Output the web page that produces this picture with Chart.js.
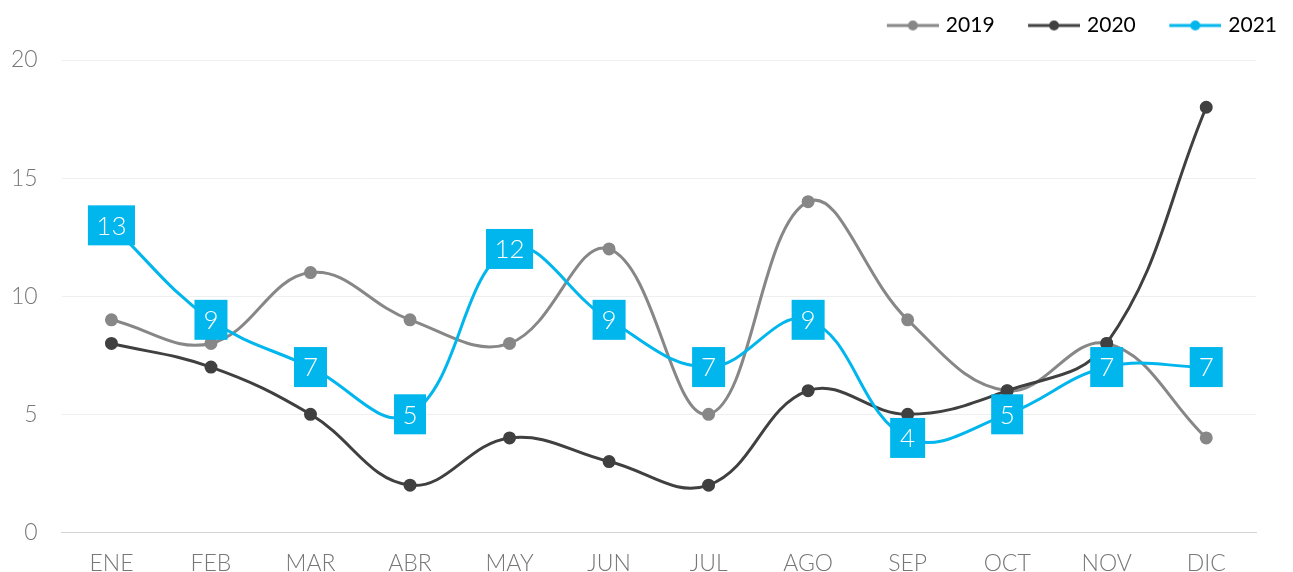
<!DOCTYPE html>
<html>
<head>
<meta charset="utf-8">
<script src="https://cdn.jsdelivr.net/npm/chart.js@4"></script>
<style>
  body { margin: 0; background: #fff; }
  #wrap { width: 1293px; height: 572px; }
</style>
</head>
<body>
<div id="wrap"><canvas id="chart" width="1293" height="572"></canvas></div>
<script>
const months = ['ENE', 'FEB', 'MAR', 'ABR', 'MAY', 'JUN', 'JUL', 'AGO', 'SEP', 'OCT', 'NOV', 'DIC'];
const values2019 = [9, 8, 11, 9, 8, 12, 5, 14, 9, 6, 8, 4];
const values2020 = [8, 7, 5, 2, 4, 3, 2, 6, 5, 6, 8, 18];
const values2021 = [13, 9, 7, 5, 12, 9, 7, 9, 4, 5, 7, 7];
const yTicks = [0, 5, 10, 15, 20];

const gray = '#878787';
const dark = '#404040';
const cyan = '#00b6ec';
const fontFamily = 'Lato, "Open Sans", sans-serif';

// line-with-dot swatch for the legend (transparent lead-in keeps the items apart)
function legendSwatch(color) {
    const c = document.createElement('canvas');
    c.width = 77;
    c.height = 12;
    const ctx = c.getContext('2d');
    ctx.strokeStyle = color;
    ctx.lineWidth = 3;
    ctx.beginPath();
    ctx.moveTo(25, 6);
    ctx.lineTo(77, 6);
    ctx.stroke();
    ctx.fillStyle = color;
    ctx.beginPath();
    ctx.arc(51, 6, 5, 0, Math.PI * 2);
    ctx.fill();
    return c;
}

// a bit more room between the legend and the plot
const legendGap = {
    id: 'legendGap',
    beforeLayout(chart) {
        const lg = chart.legend;
        if (lg && !lg._gapPatched) {
            const fit = lg.fit.bind(lg);
            lg.fit = function () {
                fit();
                this.height += 14;
            };
            lg._gapPatched = true;
        }
    }
};

// cyan boxes with the value, only for the 2021 series
const valueBoxes = {
    id: 'valueBoxes',
    afterDatasetsDraw(chart) {
        const ctx = chart.ctx;
        const meta = chart.getDatasetMeta(2);
        const data = chart.data.datasets[2].data;
        ctx.save();
        ctx.font = '300 26px ' + fontFamily;
        ctx.textAlign = 'center';
        ctx.textBaseline = 'middle';
        meta.data.forEach((pt, i) => {
            const text = String(data[i]);
            const m = ctx.measureText(text);
            const w = m.actualBoundingBoxLeft + m.actualBoundingBoxRight + 20;
            const h = 40;
            ctx.fillStyle = cyan;
            ctx.fillRect(pt.x - w / 2, pt.y - h / 2, w, h);
            ctx.fillStyle = '#fff';
            ctx.fillText(text, pt.x, pt.y + 1);
        });
        ctx.restore();
    }
};

function lineSet(label, data, color, order) {
    return {
        label: label,
        data: data,
        borderColor: color,
        backgroundColor: color,
        pointBackgroundColor: color,
        pointBorderColor: color,
        borderWidth: 3,
        pointRadius: 5,
        pointHoverRadius: 5,
        tension: 0.4,
        fill: false,
        order: order
    };
}

new Chart(document.getElementById('chart'), {
    type: 'line',
    data: {
        labels: months,
        datasets: [
            lineSet('2019', values2019, gray, 3),
            lineSet('2020', values2020, dark, 2),
            lineSet('2021', values2021, cyan, 1)
        ]
    },
    options: {
        responsive: false,
        animation: false,
        layout: { padding: { left: -13, right: 4, top: 3, bottom: -22 } },
        plugins: {
            tooltip: { enabled: false },
            legend: {
                position: 'top',
                align: 'end',
                labels: {
                    usePointStyle: true,
                    pointStyleWidth: 70,
                    boxHeight: 12,
                    padding: 12,
                    color: '#222',
                    font: { family: fontFamily, size: 21 },
                    generateLabels(chart) {
                        return chart.data.datasets.map((ds, i) => ({
                            text: ds.label,
                            datasetIndex: i,
                            pointStyle: legendSwatch(ds.borderColor),
                            fillStyle: ds.borderColor,
                            strokeStyle: ds.borderColor,
                            lineWidth: 0,
                            hidden: false
                        }));
                    }
                }
            }
        },
        scales: {
            x: {
                offset: true,
                grid: { display: false, drawTicks: false },
                border: { display: true, color: '#d4d4d4', width: 1 },
                ticks: {
                    color: '#777',
                    padding: 17,
                    font: { family: fontFamily, size: 23, weight: 300 }
                }
            },
            y: {
                min: 0,
                max: 20,
                afterBuildTicks(axis) {
                    axis.ticks = yTicks.map(v => ({ value: v }));
                },
                grid: { color: '#efefef', drawTicks: false },
                border: { display: false },
                ticks: {
                    color: '#777',
                    padding: 24,
                    font: { family: fontFamily, size: 23, weight: 300 }
                }
            },
            // empty strip on the right so the plot stops short of the legend edge
            yRight: {
                position: 'right',
                display: true,
                grid: { display: false, drawTicks: false },
                border: { display: false },
                ticks: { display: false },
                afterFit(axis) {
                    axis.width = 33;
                }
            }
        }
    },
    plugins: [valueBoxes, legendGap]
});
</script>
</body>
</html>
